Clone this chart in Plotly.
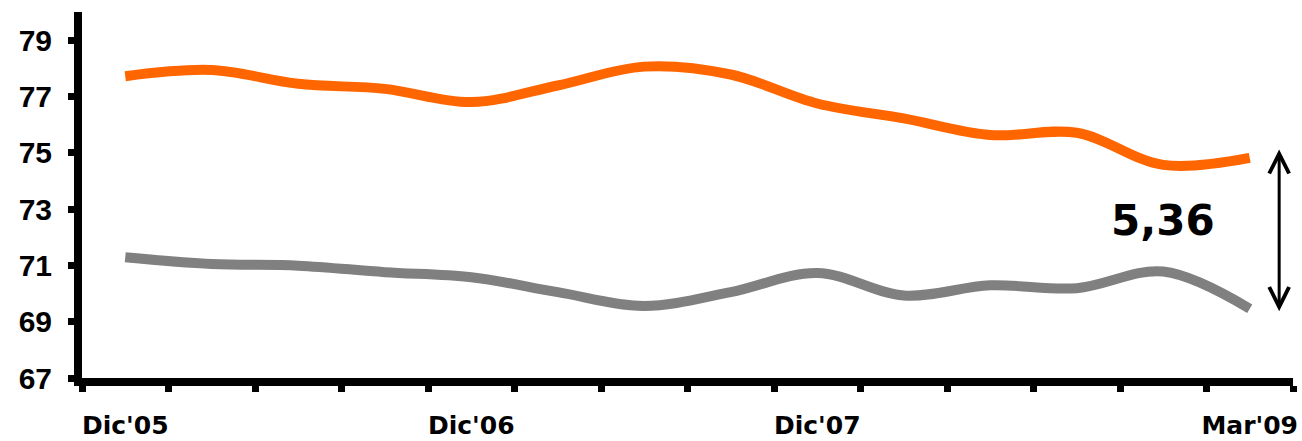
import plotly.graph_objects as go

quarters = ["Dic'05", "Mar'06", "Jun'06", "Sep'06", "Dic'06", "Mar'07", "Jun'07",
            "Sep'07", "Dic'07", "Mar'08", "Jun'08", "Sep'08", "Dic'08", "Mar'09"]
orange_vals = [77.72, 77.94, 77.45, 77.27, 76.80, 77.39, 78.06,
               77.78, 76.75, 76.22, 75.63, 75.71, 74.57, 74.82]
gray_vals = [71.29, 71.05, 70.99, 70.76, 70.58, 70.05, 69.56,
             70.05, 70.73, 69.93, 70.29, 70.19, 70.78, 69.46]
labeled_quarters = ["Dic'05", "Dic'06", "Dic'07", "Mar'09"]
y_ticks = [67, 69, 71, 73, 75, 77, 79]
gap_label = "5,36"

x_idx = list(range(len(quarters)))
label_idx = [quarters.index(q) for q in labeled_quarters]

fig = go.Figure()
fig.add_trace(go.Scatter(x=x_idx, y=orange_vals, mode="lines",
                         line=dict(color="#FF6600", width=10, shape="spline", smoothing=1.0),
                         hoverinfo="skip"))
fig.add_trace(go.Scatter(x=x_idx, y=gray_vals, mode="lines",
                         line=dict(color="#808080", width=10, shape="spline", smoothing=1.0),
                         hoverinfo="skip"))

n = len(quarters)
fig.update_xaxes(range=[-0.5, n - 0.5], showgrid=False, zeroline=False, automargin=False,
                 showline=True, linecolor="black", linewidth=8,
                 tickmode="array", tickvals=label_idx, ticktext=labeled_quarters,
                 ticks="", ticklabelstandoff=18,
                 tickfont=dict(family="DejaVu Sans", size=25, color="black", weight="bold"),
                 minor=dict(ticks="outside", tickmode="linear", tick0=-0.5, dtick=1,
                            ticklen=6, tickwidth=7, tickcolor="black", showgrid=False))
fig.update_yaxes(range=[67, 80], showgrid=False, zeroline=False, automargin=False,
                 showline=True, linecolor="black", linewidth=8,
                 tickmode="array", tickvals=y_ticks, ticktext=[str(v) for v in y_ticks],
                 ticks="outside", ticklen=6, tickwidth=7, tickcolor="black",
                 ticklabelstandoff=10,
                 tickfont=dict(family="Liberation Sans", size=30, color="black", weight="bold"))

# double-headed arrow spanning the final gap
fig.add_annotation(x=n - 1 + 0.34, y=orange_vals[-1] + 0.3, ax=n - 1 + 0.34, ay=gray_vals[-1] - 0.14,
                   xref="x", yref="y", axref="x", ayref="y", text="",
                   showarrow=True, arrowhead=5, arrowside="end+start", arrowwidth=3,
                   arrowsize=1.3, arrowcolor="black")
fig.add_annotation(x=n - 2 + 0.0, y=(orange_vals[-1] + gray_vals[-1]) / 2 + 0.44,
                   xref="x", yref="y", text=gap_label, showarrow=False,
                   font=dict(family="DejaVu Sans", size=42, color="black", weight="bold"))

fig.update_layout(width=1302, height=441, plot_bgcolor="white", paper_bgcolor="white",
                  showlegend=False, margin=dict(l=82, r=9, t=12, b=63))

fig.write_html("out.html", config={"displayModeBar": False},
               post_script="document.body.style.margin='0';document.body.style.overflow='hidden';")
